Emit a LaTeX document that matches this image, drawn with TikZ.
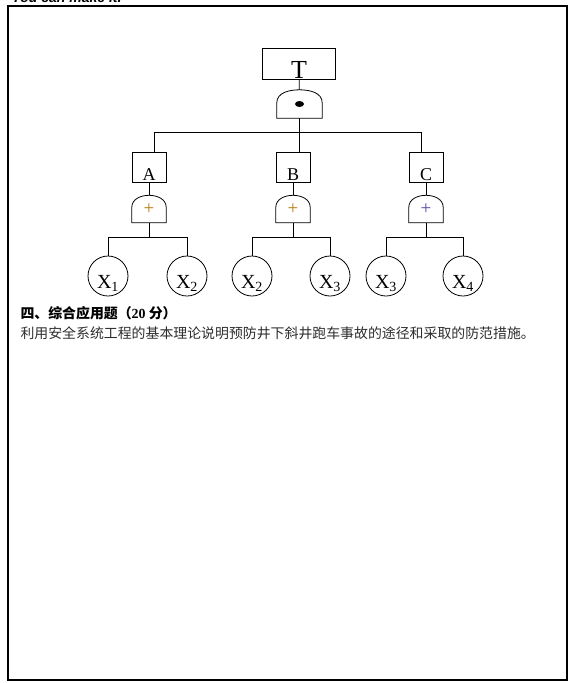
\documentclass[tikz,border=0pt]{standalone}
\usepackage{fontspec}
\setmainfont{Liberation Serif}
\newfontfamily\cjk{Noto Sans CJK SC}
\newfontfamily\hdrfont{Liberation Sans}
\definecolor{plusor}{RGB}{185,120,20}
\definecolor{pluspu}{RGB}{90,70,170}
\definecolor{txtgray}{RGB}{45,45,45}
\tikzset{
  evt/.style={draw, line width=0.8pt, inner sep=0pt, text depth=0pt},
  basic/.style={draw, circle, line width=0.8pt, inner sep=0pt, minimum size=40pt,
    text height=24pt, text depth=0pt, font=\fontsize{20}{20}\selectfont},
  gate/.style={inner sep=0pt, font=\fontsize{19}{19}\selectfont},
  conn/.style={line width=0.8pt}
}
% gate outline: flat base, straight sides, round top
\newcommand{\gateshape}[2]{%
  \draw[conn] (#1.south west) -- ([yshift=-#2]#1.north west) to[out=90,in=180] (#1.north)
    to[out=0,in=90] ([yshift=-#2]#1.north east) -- (#1.south east) -- cycle;}
\begin{document}
\begin{tikzpicture}[x=1pt, y=-1pt]
  \useasboundingbox (0,0) rectangle (571,683);
  \node[anchor=base west, font=\hdrfont\bfseries\itshape\fontsize{14}{14}\selectfont] (hdr) at (8,2.8) {You can make it.};
  \draw[line width=1.8pt] (8,5.5) -- (567,5.5);
  \draw[line width=1.2pt] (8,6) rectangle (567,680);
  % top event and AND gate
  \node[evt, minimum width=73pt, minimum height=31pt, text height=29pt, font=\fontsize{26}{26}\selectfont] (T) at (299,63.5) {T};
  \node[gate, minimum width=45pt, minimum height=28pt] (andg) at (299.5,104) {};
  \gateshape{andg}{13pt}
  \fill (andg.center) ellipse (4.5pt and 3pt);
  \draw[conn] (T) -- (andg);
  % intermediate events
  \foreach \n/\x/\c in {A/149/plusor, B/293/plusor, C/426/pluspu} {
    \node[evt, minimum width=34pt, minimum height=30pt, text height=26pt, font=\fontsize{18}{18}\selectfont] (\n) at (\x,167) {\n};
    \node[gate, minimum width=34pt, minimum height=27pt, text=\c] (or\n) at (\x,209) {+};
    \gateshape{or\n}{12pt}
    \draw[conn] (\n) -- (or\n);
  }
  \draw[conn] ([xshift=5pt]A.north) -- ++(0,-19) -| (andg.south);
  \draw[conn] ([xshift=-5pt]C.north) -- ++(0,-19) -| (andg.south);
  \draw[conn] (andg.south) -- (andg.south |- B.north);
  % basic events
  \foreach \i/\x/\s/\g in {1/108/1/A, 2/187/2/A, 3/252/2/B, 4/330/3/B, 5/386/3/C, 6/463/4/C} {
    \node[basic] (x\i) at (\x,276) {X\textsubscript{\s}};
    \draw[conn] (x\i.north) -- ++(0,-18) -| (or\g.south);
  }
  % question text
  \node[anchor=base west, font=\cjk\bfseries\fontsize{13.9}{16}\selectfont] (qhead) at (17,318) {四、综合应用题（{\rmfamily 20} 分）};
  \node[anchor=base west, text=txtgray, font=\cjk\fontsize{13.9}{16}\selectfont] (qbody) at (17,338) {利用安全系统工程的基本理论说明预防井下斜井跑车事故的途径和采取的防范措施。};
\end{tikzpicture}
\end{document}
